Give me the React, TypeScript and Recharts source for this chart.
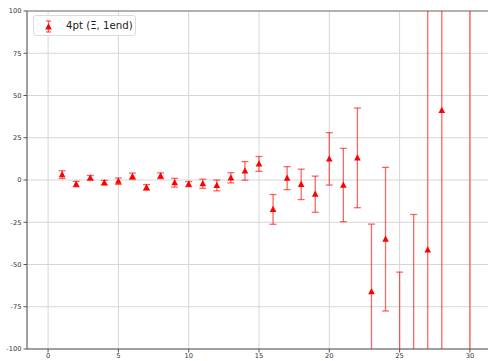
import React from "react";
import {
  ComposedChart,
  Scatter,
  ErrorBar,
  XAxis,
  YAxis,
  CartesianGrid,
  ReferenceLine,
} from "recharts";

const xValues = [1, 2, 3, 4, 5, 6, 7, 8, 9, 10, 11, 12, 13, 14, 15, 16, 17, 18, 19, 20, 21, 22, 23, 24, 25, 26, 27, 28, 30];
const yValues = [3.2, -2.4, 1.3, -1.6, -0.7, 2.2, -4.4, 2.5, -1.6, -2.4, -2.2, -3.2, 1.3, 5.4, 9.5, -17.4, 1.1, -2.6, -8.4, 12.5, -3, 13.1, -66.1, -35, -125, -130, -41.3, 41.2, 150];
const yErrors = [2.3, 1.6, 1.4, 1.4, 1.9, 1.9, 1.7, 1.7, 2.6, 1.5, 2.7, 3.2, 3, 5.5, 4.4, 8.8, 6.8, 9, 10.7, 15.5, 21.7, 29.5, 40, 42.5, 70.5, 109.6, 170, 170, 400];

const xTicks = [0, 5, 10, 15, 20, 25, 30];
const yTicks = [-100, -75, -50, -25, 0, 25, 50, 75, 100];
const legendLabel = "4pt (Ξ, 1end)";

const data = xValues.map((x, i) => ({ x, y: yValues[i], err: yErrors[i] }));

const Triangle = (props: any) => {
  const { cx, cy } = props;
  if (cx == null || cy == null) return null;
  return (
    <polygon
      points={`${cx},${cy - 3.6} ${cx - 3.3},${cy + 2.6} ${cx + 3.3},${cy + 2.6}`}
      fill="#ff0000"
    />
  );
};

const tickStyle = { fontFamily: "DejaVu Sans", fontSize: 6.7, fill: "#333" };

export default function App() {
  return (
    <div
      style={{
        position: "absolute",
        left: 0,
        top: 0,
        width: 488,
        height: 361,
        overflow: "hidden",
        background: "#fff",
      }}
    >
      <style>{`.recharts-errorBar, .recharts-scatter-symbol { clip-path: url(#plotAreaClip); }`}</style>
      <svg width={0} height={0} style={{ position: "absolute" }}>
        <defs>
          <clipPath id="plotAreaClip" clipPathUnits="userSpaceOnUse">
            <rect x={27} y={11} width={464} height={338} />
          </clipPath>
        </defs>
      </svg>
      <ComposedChart
        width={491}
        height={361}
        data={data}
        margin={{ top: 11, right: 0, bottom: 0, left: 0 }}
      >
        <CartesianGrid stroke="#d6d6d6" strokeWidth={1} />
        <XAxis
          dataKey="x"
          type="number"
          domain={[-1.5, 31.5]}
          ticks={xTicks}
          allowDataOverflow
          height={12}
          tickSize={3.5}
          tickMargin={1}
          tick={tickStyle}
          stroke="#555"
          interval={0}
        />
        <YAxis
          dataKey="y"
          type="number"
          domain={[-100, 100]}
          ticks={yTicks}
          allowDataOverflow
          width={27}
          tickSize={3.5}
          tickMargin={2}
          tick={tickStyle}
          stroke="#555"
          interval={0}
        />
        <ReferenceLine y={100} stroke="#777" strokeWidth={1} />
        <Scatter
          data={data}
          dataKey="y"
          shape={<Triangle />}
          isAnimationActive={false}
        >
          <ErrorBar
            dataKey="err"
            direction="y"
            width={3.5}
            stroke="rgba(255,0,0,0.6)"
            strokeWidth={1.3}
            isAnimationActive={false}
          />
        </Scatter>
      </ComposedChart>
      <div
        style={{
          position: "absolute",
          left: 33,
          top: 15,
          width: 103,
          height: 21,
          border: "1px solid #dcdcdc",
          borderRadius: 3,
          background: "rgba(255,255,255,0.85)",
          boxSizing: "border-box",
        }}
      >
        <svg width={30} height={21} style={{ position: "absolute", left: 0, top: 0 }}>
          <line x1={14.5} x2={14.5} y1={5} y2={16} stroke="rgba(255,0,0,0.6)" strokeWidth={1.3} />
          <line x1={12} x2={17} y1={5} y2={5} stroke="rgba(255,0,0,0.6)" strokeWidth={1.3} />
          <line x1={12} x2={17} y1={16} y2={16} stroke="rgba(255,0,0,0.6)" strokeWidth={1.3} />
          <polygon points="14.5,7.2 11.2,13.4 17.8,13.4" fill="#ff0000" />
        </svg>
        <span
          style={{
            position: "absolute",
            left: 32,
            top: 3,
            fontFamily: "DejaVu Sans",
            fontSize: 10.2,
            color: "#222",
            whiteSpace: "nowrap",
            lineHeight: "13px",
          }}
        >
          {legendLabel}
        </span>
      </div>
    </div>
  );
}
